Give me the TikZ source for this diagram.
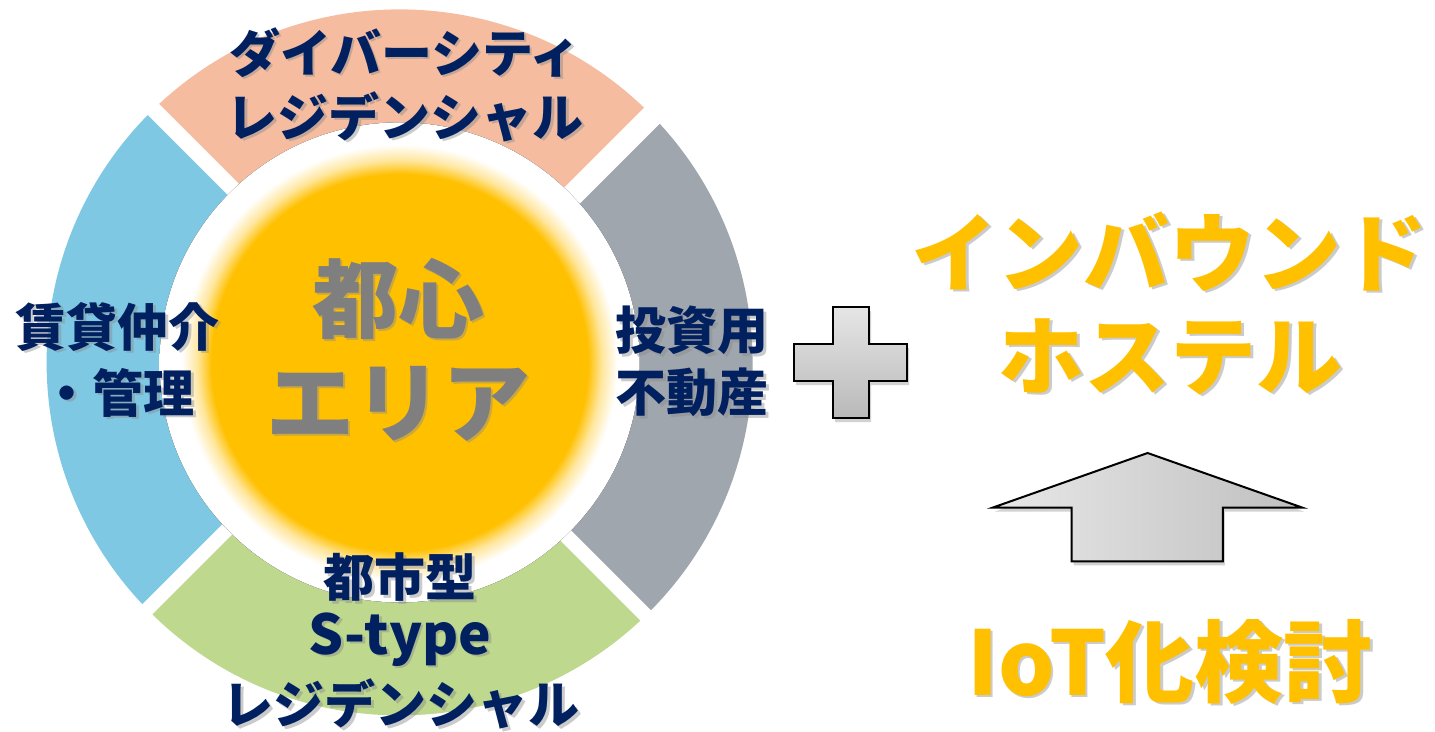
\documentclass[tikz,border=0pt]{standalone}
\usepackage{fontspec}
\setmainfont{Noto Sans CJK JP}
\usetikzlibrary{shadows}
\definecolor{salmonc}{HTML}{F5BC9F}
\definecolor{bluec}{HTML}{7EC8E3}
\definecolor{greenc}{HTML}{BED88E}
\definecolor{grayc}{HTML}{A0A6AD}
\definecolor{navyc}{HTML}{002060}
\definecolor{midgray}{HTML}{7F7F7F}
\definecolor{glowc}{HTML}{FFC000}
\definecolor{glowm}{HTML}{FFE7A0}
\definecolor{shadowc}{HTML}{8C8C8C}
\pgfdeclareradialshading{glow}{\pgfpoint{0bp}{0bp}}{color(0bp)=(glowc); color(19.6bp)=(glowc); color(21.1bp)=(glowm); color(22.7bp)=(white); color(50bp)=(white)}
\tikzset{
  lbl/.style={inner sep=0pt, anchor=base, font=\bfseries\fontsize{#1}{#1}\selectfont},
  navytxt/.style={lbl=51, text=navyc},
  centertxt/.style={lbl=#1, text=midgray},
  yellowtxt/.style={lbl=#1, text=glowc},
  shd/.style={text=shadowc, opacity=0.45},
  gapline/.style={white, line width=#1},
  shapeedge/.style={draw=black, line width=2pt, line join=miter,
    drop shadow={opacity=0.35, shadow xshift=2pt, shadow yshift=-4pt}}
}
\newcommand{\shtxt}[5]{% name, style, x, y, text
  \node[#2, shd] (#1-s) at (#3+2.5, #4+2.5) {#5};
  \node[#2] (#1) at (#3, #4) {#5};}
\begin{document}
\begin{tikzpicture}[x=1pt, y=-1pt]
\useasboundingbox (0,0) rectangle (1435,731);
\fill[white] (0,0) rectangle (1435,731);
\coordinate (c) at (399.6,362.4);
% ring sectors
\fill[salmonc] (c) -- ++(45:353pt) arc[start angle=45, end angle=135, radius=353pt] -- cycle;
\fill[bluec] (c) -- ++(135:353pt) arc[start angle=135, end angle=225, radius=353pt] -- cycle;
\fill[greenc] (c) -- ++(225:353pt) arc[start angle=225, end angle=315, radius=353pt] -- cycle;
\fill[grayc] (c) -- ++(-45:353pt) arc[start angle=-45, end angle=45, radius=353pt] -- cycle;
% gaps
\coordinate (g1a) at (403,359);   \coordinate (g1b) at (103,59);
\coordinate (g2a) at (402.4,365.2); \coordinate (g2b) at (702.4,65.2);
\coordinate (g3a) at (396.9,359.7); \coordinate (g3b) at (96.9,659.7);
\coordinate (g4a) at (396.2,365.9); \coordinate (g4b) at (696.2,665.9);
\draw[gapline=15.6pt] (g1a) -- (g1b);
\draw[gapline=22.4pt] (g2a) -- (g2b);
\draw[gapline=14.2pt] (g3a) -- (g3b);
\draw[gapline=14.7pt] (g4a) -- (g4b);
% inner white disc with yellow glow
\fill[shading=glow] (c) circle[radius=240pt];
% ring labels
\shtxt{t1}{navytxt}{405}{72}{ダイバーシティ}
\shtxt{t2}{navytxt}{405}{136}{レジデンシャル}
\shtxt{l1}{navytxt}{118}{346}{賃貸仲介}
\shtxt{l2}{navytxt}{118}{412}{・管理}
\shtxt{r1}{navytxt}{692}{349.5}{投資用}
\shtxt{r2}{navytxt}{692}{411.5}{不動産}
\shtxt{b1}{navytxt}{400}{596.5}{都市型}
\shtxt{b2}{navytxt, lbl=55}{400}{654}{S-type}
\shtxt{b3}{navytxt}{401}{723.5}{レジデンシャル}
% center
\shtxt{c1}{centertxt=86}{398}{331}{都心}
\shtxt{c2}{centertxt=88}{398}{435}{エリア}
% right side
\shtxt{y1}{yellowtxt=86}{1169.5}{285}{インバウンド}
\shtxt{y2}{yellowtxt=86}{1170.5}{388}{ホステル}
\shtxt{y3}{yellowtxt=89}{1170}{695}{IoT化検討}
% plus
\filldraw[shapeedge, top color=gray!20, bottom color=gray!55]
  (833,307) -- (869,307) -- (869,344) -- (907,344) -- (907,381) -- (869,381)
  -- (869,418) -- (833,418) -- (833,381) -- (794,381) -- (794,344) -- (833,344) -- cycle;
% arrow
\filldraw[shapeedge, left color=gray!18, right color=gray!50]
  (1147.6,453) -- (1302,507.5) -- (1222.8,507.5) -- (1222.8,561.3)
  -- (1071.6,561.3) -- (1071.6,507.5) -- (993,507.5) -- cycle;
\end{tikzpicture}
\end{document}
